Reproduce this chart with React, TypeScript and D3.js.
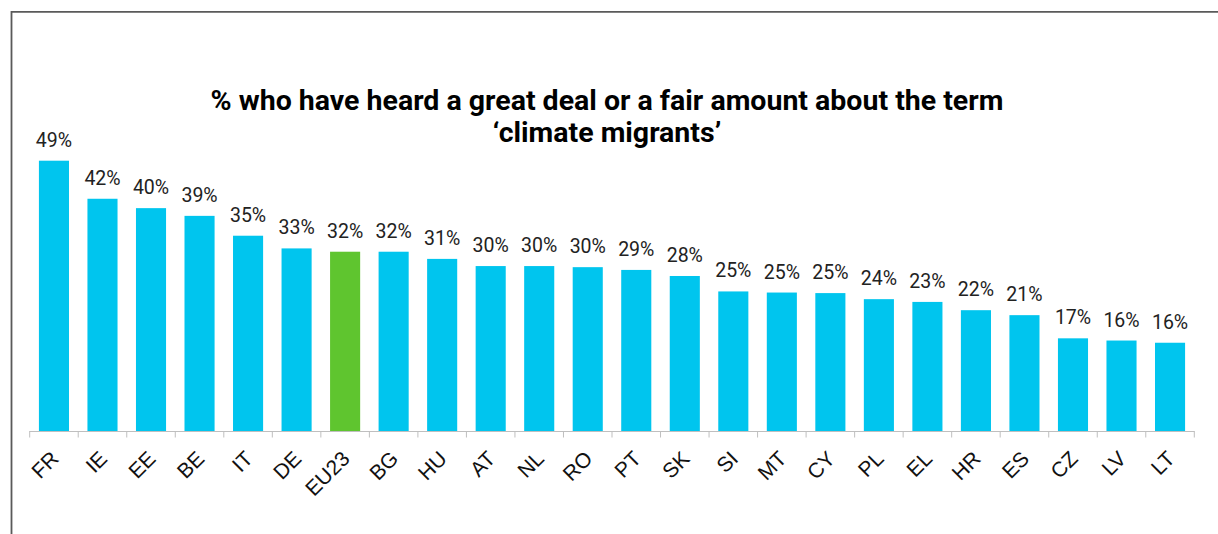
import React from "react";
import * as d3 from "d3";

const categories = ["FR","IE","EE","BE","IT","DE","EU23","BG","HU","AT","NL","RO","PT","SK","SI","MT","CY","PL","EL","HR","ES","CZ","LV","LT"];
const values = [49.0,42.1,40.4,39.0,35.4,33.1,32.5,32.5,31.2,29.9,29.9,29.7,29.2,28.1,25.3,25.1,25.0,23.9,23.4,21.9,21.0,16.8,16.4,16.0];
const valueLabels = ["49%","42%","40%","39%","35%","33%","32%","32%","31%","30%","30%","30%","29%","28%","25%","25%","25%","24%","23%","22%","21%","17%","16%","16%"];
const highlight = ["EU23"];
const titleLines = ["% who have heard a great deal or a fair amount about the term", "\u2018climate migrants\u2019"];

const W = 1218, H = 534;
const x0 = 29.7, x1 = 1194.3, baseY = 431, topY = 160.7;

export default function App() {
  const x = d3.scaleBand<string>().domain(categories).range([x0, x1]).paddingInner(0.38).paddingOuter(0.19);
  const y = d3.scaleLinear().domain([0, 49]).range([baseY, topY]);
  const step = x.step();
  const tickXs = d3.range(categories.length + 1).map(i => x0 + i * step);
  return (
    <div style={{ position: "absolute", left: 0, top: 0 }}>
      <svg width={W} height={H} style={{ display: "block", background: "#fff" }}>
        <line x1={11.5} y1={11.8} x2={W} y2={11.8} stroke="#5a5a5a" strokeWidth={1.8} />
        <line x1={11.5} y1={11} x2={11.5} y2={H} stroke="#5a5a5a" strokeWidth={1.8} />
        <g fontFamily="Roboto" fontWeight="bold" fontSize={28.5} fill="#000" textAnchor="middle">
          {titleLines.map((t, i) => (
            <text key={i} x={607} y={110 + i * 32}>{t}</text>
          ))}
        </g>
        {categories.map((c, i) => (
          <rect key={c} x={x(c)} y={y(values[i])} width={x.bandwidth()} height={baseY - y(values[i])}
            fill={highlight.includes(c) ? "#5fc52f" : "#00c5ee"} />
        ))}
        {categories.map((c, i) => (
          <text key={"v" + c} x={(x(c) as number) + x.bandwidth() / 2} y={y(values[i]) - 14}
            textAnchor="middle" fontFamily="Roboto" fontSize={19.5} fill="#222">{valueLabels[i]}</text>
        ))}
        <line x1={x0} x2={x1} y1={baseY + 0.5} y2={baseY + 0.5} stroke="#bfbfbf" strokeWidth={1} />
        {tickXs.map((tx, i) => (
          <line key={"t" + i} x1={tx} x2={tx} y1={baseY} y2={baseY + 6.5} stroke="#bfbfbf" strokeWidth={1} />
        ))}
        {categories.map((c) => {
          const cx = (x(c) as number) + x.bandwidth() / 2 + 6;
          const cy = 460;
          return (
            <text key={"l" + c} transform={`translate(${cx},${cy}) rotate(-45)`} textAnchor="end"
              fontFamily="Liberation Sans" fontSize={21} fill="#111">{c}</text>
          );
        })}
      </svg>
    </div>
  );
}
